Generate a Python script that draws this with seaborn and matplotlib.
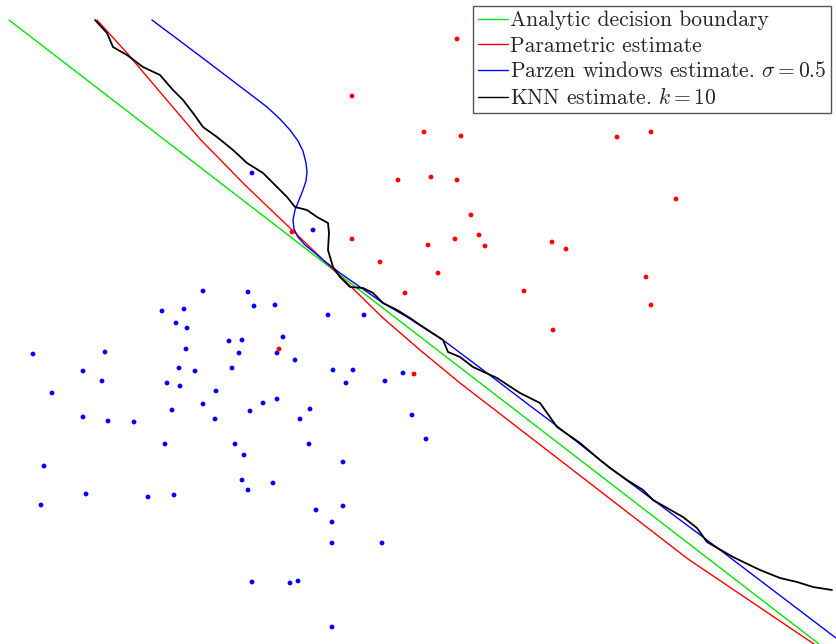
import numpy as np
import pandas as pd
import matplotlib
matplotlib.use("Agg")
import matplotlib.pyplot as plt
import seaborn as sns

# ---- training samples (two classes) ----
class1_x = [2.03, 2.48, 1.62, 1.84, 2.54, 2.75, 3.28, 3.64, 1.76, 1.87, 2.83, 2.29, 2.42, 1.86,
            2.39, 2.77, 0.33, 1.05, 2.95, 1.79, 1.95, 2.32, 0.83, 3.33, 3.53, 4.03, 1.67, 1.80,
            1.02, 3.46, 3.85, 0.52, 2.16, 2.77, 2.63, 2.03, 1.72, 2.50, 3.10, 2.15, 3.00, 4.12,
            0.83, 1.08, 1.34, 1.65, 2.35, 3.09, 4.26, 2.44, 3.43, 0.44, 2.42, 2.73, 2.48, 0.86,
            1.48, 1.74, 0.41, 3.16, 3.43, 3.32, 3.32, 3.82, 2.52, 2.90, 2.98, 3.32, 2.52, 3.13]
class1_y = [3.53, 3.52, 3.33, 3.35, 3.38, 3.39, 3.29, 3.29, 3.21, 3.16, 3.07, 3.03, 3.04, 2.95,
            2.91, 2.91, 2.90, 2.92, 2.84, 2.76, 2.73, 2.76, 2.73, 2.74, 2.74, 2.71, 2.61, 2.58,
            2.63, 2.61, 2.63, 2.51, 2.53, 2.45, 2.41, 2.40, 2.34, 2.33, 2.35, 2.25, 2.25, 2.29,
            2.27, 2.23, 2.22, 2.00, 2.00, 2.00, 2.05, 1.89, 1.82, 1.78, 1.64, 1.61, 1.54, 1.50,
            1.47, 1.49, 1.39, 1.34, 1.38, 1.22, 1.01, 1.01, 0.62, 0.61, 0.63, 0.17, 4.71, 4.14]

class2_x = [4.57, 3.52, 4.24, 4.61, 6.17, 6.51, 4.31, 4.57, 3.98, 6.76, 4.71, 4.28, 4.55, 4.79,
            4.85, 5.52, 5.66, 4.38, 4.05, 5.24, 6.46, 6.51, 5.53, 4.14, 3.52, 3.80, 2.92, 2.79]
class2_y = [6.05, 5.48, 5.12, 5.08, 5.07, 5.12, 4.67, 4.64, 4.64, 4.45, 4.29, 3.99, 4.05, 4.09,
            3.98, 4.02, 3.95, 3.71, 3.51, 3.53, 3.67, 3.39, 3.14, 2.70, 4.05, 3.82, 4.12, 2.95]

# ---- decision boundaries ----
analytic_x = [0.09, 8.19]
analytic_y = [6.24, 0.00]

parametric_x = [0.97, 1.27, 1.60, 2.00, 2.45, 2.90, 3.40, 3.83, 4.20, 4.60, 5.65, 6.88, 8.08, 8.14]
parametric_y = [6.24, 5.91, 5.52, 5.05, 4.59, 4.16, 3.68, 3.26, 2.94, 2.61, 1.80, 0.85, 0.04, 0.00]

parzen_x = [1.52, 2.00, 2.50, 2.67, 2.80, 2.90, 2.98, 3.03, 3.06, 3.07, 3.06, 3.03, 2.99, 2.95,
            2.93, 2.94, 2.98, 3.05, 3.15, 3.23, 3.40, 3.60, 3.83, 4.07, 4.43, 4.87, 5.33, 5.53,
            6.13, 7.03, 8.32, 8.36]
parzen_y = [6.24, 5.88, 5.50, 5.37, 5.25, 5.14, 5.03, 4.93, 4.81, 4.72, 4.63, 4.54, 4.44, 4.34,
            4.24, 4.15, 4.07, 3.99, 3.91, 3.84, 3.71, 3.57, 3.41, 3.27, 3.04, 2.71, 2.36, 2.21,
            1.74, 1.07, 0.09, 0.06]

knn_x = [0.95, 1.07, 1.13, 1.27, 1.43, 1.60, 1.73, 1.83, 1.93, 2.03, 2.17, 2.33, 2.47, 2.63,
         2.77, 2.87, 2.95, 3.07, 3.17, 3.28, 3.29, 3.28, 3.33, 3.40, 3.50, 3.63, 3.73, 3.83,
         3.97, 4.10, 4.20, 4.43, 4.48, 4.60, 4.73, 4.97, 5.20, 5.40, 5.45, 5.57, 5.80, 6.00,
         6.10, 6.27, 6.43, 6.53, 6.83, 6.97, 7.07, 7.33, 7.60, 7.80, 7.97, 8.13, 8.32]
knn_y = [6.24, 6.11, 5.97, 5.89, 5.77, 5.69, 5.54, 5.44, 5.31, 5.17, 5.07, 4.94, 4.81, 4.71,
         4.57, 4.47, 4.37, 4.34, 4.27, 4.21, 4.11, 3.94, 3.77, 3.67, 3.57, 3.56, 3.51, 3.41,
         3.34, 3.26, 3.19, 3.04, 2.92, 2.87, 2.77, 2.66, 2.51, 2.41, 2.34, 2.17, 2.01, 1.84,
         1.76, 1.64, 1.54, 1.44, 1.27, 1.16, 1.02, 0.87, 0.74, 0.66, 0.62, 0.57, 0.54]

labels = ["Analytic decision boundary",
          "Parametric estimate",
          r"Parzen windows estimate. $\sigma = 0.5$",
          r"KNN estimate. $k = 10$"]
colors = ["#00e600", "#ff0000", "#0000ff", "#000000"]

sns.set_theme(style="white")
plt.rcParams["font.family"] = ["serif"]
plt.rcParams["font.serif"] = ["cmr10"]
plt.rcParams["mathtext.fontset"] = "cm"
plt.rcParams["axes.formatter.use_mathtext"] = True

points = pd.concat([
    pd.DataFrame({"x": class1_x, "y": class1_y, "cls": "1"}),
    pd.DataFrame({"x": class2_x, "y": class2_y, "cls": "2"}),
])

fig = plt.figure(figsize=(8.36, 6.44), dpi=100)
ax = fig.add_axes([0, 0, 1, 1])

sns.scatterplot(data=points, x="x", y="y", hue="cls",
                palette={"1": "#0000ff", "2": "#ff0000"},
                s=12, linewidth=0, legend=False, ax=ax, zorder=3)

curves = [(analytic_x, analytic_y), (parametric_x, parametric_y),
          (parzen_x, parzen_y), (knn_x, knn_y)]
widths = [1.0, 1.0, 1.0, 1.3]
for (cx, cy), lab, col, lw in zip(curves, labels, colors, widths):
    sns.lineplot(x=cx, y=cy, sort=False, estimator=None, color=col,
                 linewidth=lw, label=lab, ax=ax, zorder=2)

ax.set_xlim(0, 8.36)
ax.set_ylim(0, 6.44)
ax.set_axis_off()

leg = ax.legend(loc="upper left", bbox_to_anchor=(473 / 836, 1 - 6 / 644),
                borderaxespad=0, fontsize=15.5, handlelength=1.4,
                handletextpad=0.1, labelspacing=0.27, borderpad=0.22,
                frameon=True, fancybox=False, framealpha=1)
leg.get_frame().set_edgecolor("#555555")
leg.get_frame().set_linewidth(1.0)
for h in leg.get_lines():
    h.set_linewidth(1.0)

fig.savefig("out.png", dpi=100)
